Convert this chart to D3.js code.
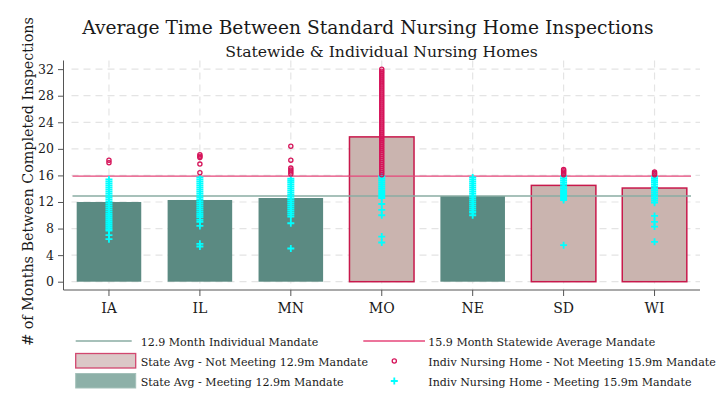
<!DOCTYPE html>
<html>
<head>
<meta charset="utf-8">
<script src="https://cdn.jsdelivr.net/npm/d3@7"></script>
<style>
  html, body { margin: 0; padding: 0; background: #fff; }
  svg { display: block; }
  text { font-family: "DejaVu Serif", "Liberation Serif", serif; fill: #1a1a1a; }
</style>
</head>
<body>
<svg id="chart" width="716" height="414"></svg>
<script>
// ---------------- DATA ----------------
const states = ["IA", "IL", "MN", "MO", "NE", "SD", "WI"];
const stateAvg = [12.0, 12.3, 12.6, 21.8, 12.9, 14.5, 14.1];
const yTicks = [0, 4, 8, 12, 16, 20, 24, 28, 32];
const individualMandate = 12.9;
const statewideMandate = 15.9;

// Individual nursing homes above 15.9 months (circles)
const homesNotMeetingIA = [18.3, 17.9];
const homesNotMeetingIL = [19.1, 18.9, 18.7, 17.7, 16.4];
const homesNotMeetingMN = [20.4, 18.3, 17.1, 16.8, 16.5, 16.2];
const homesNotMeetingMO = [32.0, 31.7, 31.4, 31.1, 30.8, 30.5, 30.2, 29.9, 29.6, 29.3, 29.0, 28.7, 28.4, 28.1,
  27.8, 27.5, 27.2, 26.9, 26.6, 26.3, 26.0, 25.7, 25.4, 25.1, 24.8, 24.5, 24.2, 23.9, 23.6, 23.3, 23.0,
  22.7, 22.4, 22.1, 21.8, 21.5, 21.2, 20.9, 20.6, 20.3, 20.0, 19.7, 19.4, 19.1, 18.8, 18.5, 18.2, 17.9,
  17.6, 17.3, 17.0, 16.7, 16.4, 16.1];
const homesNotMeetingNE = [];
const homesNotMeetingSD = [16.9, 16.7, 16.5, 16.3, 16.1];
const homesNotMeetingWI = [16.5, 16.3, 16.1];

// Individual nursing homes at or below 15.9 months (crosses)
const homesMeetingIA = [15.4, 15.1, 14.8, 14.5, 14.2, 13.9, 13.6, 13.3, 13.0, 12.7, 12.4, 12.1, 11.8, 11.5,
  11.2, 10.9, 10.6, 10.3, 10.0, 9.7, 9.4, 9.1, 8.8, 8.5, 8.2, 7.9, 7.7, 7.0, 6.4];
const homesMeetingIL = [15.7, 15.4, 15.1, 14.8, 14.5, 14.2, 13.9, 13.6, 13.3, 13.0, 12.7, 12.4, 12.1, 11.8,
  11.5, 11.2, 10.9, 10.6, 10.3, 10.0, 9.7, 9.3, 9.0, 8.4, 5.7, 5.3];
const homesMeetingMN = [15.5, 15.2, 14.9, 14.6, 14.3, 14.0, 13.7, 13.4, 13.1, 12.8, 12.5, 12.2, 11.9, 11.6,
  11.3, 11.0, 10.7, 10.4, 10.1, 9.8, 8.8, 5.0];
const homesMeetingMO = [15.9, 15.6, 15.3, 15.0, 14.7, 14.4, 14.1, 13.8, 13.5, 13.2, 12.9, 12.6, 11.7, 10.8,
  10.0, 6.8, 5.9];
const homesMeetingNE = [15.7, 15.4, 15.1, 14.8, 14.5, 14.2, 13.9, 13.6, 13.3, 13.0, 12.7, 12.4, 12.1, 11.8,
  11.5, 11.2, 10.9, 10.6, 10.4, 10.0];
const homesMeetingSD = [15.9, 15.6, 15.3, 15.0, 14.7, 14.4, 14.1, 13.8, 13.5, 13.2, 12.9, 12.6, 12.3, 5.5];
const homesMeetingWI = [15.8, 15.5, 15.2, 14.9, 14.6, 14.3, 14.0, 13.7, 13.4, 13.1, 12.8, 12.5, 12.2, 11.9,
  9.9, 9.0, 8.3, 6.0];

const homesNotMeeting = [homesNotMeetingIA, homesNotMeetingIL, homesNotMeetingMN, homesNotMeetingMO,
  homesNotMeetingNE, homesNotMeetingSD, homesNotMeetingWI];
const homesMeeting = [homesMeetingIA, homesMeetingIL, homesMeetingMN, homesMeetingMO,
  homesMeetingNE, homesMeetingSD, homesMeetingWI];

const legendLabels = [
  "12.9 Month Individual Mandate",
  "15.9 Month Statewide Average Mandate",
  "State Avg - Not Meeting 12.9m Mandate",
  "Indiv Nursing Home - Not Meeting 15.9m Mandate",
  "State Avg - Meeting 12.9m Mandate",
  "Indiv Nursing Home - Meeting 15.9m Mandate"
];

// ---------------- STYLE ----------------
const C = {
  greenBar: "#5b8a82",
  pinkBar: "#cab4af",
  pinkStroke: "#c8184b",
  greenLine: "#8aaca3",
  redLine: "#e6467a",
  cyan: "#00ffff",
  magenta: "#d6145a",
  grid: "#e4e4e4",
  axis: "#555"
};

const svg = d3.select("#chart");
const plot = { left: 63.5, right: 700, top: 60.5, bottom: 290 };

const x = d3.scaleBand().domain(states).range([plot.left, plot.right])
  .paddingInner(0.29).paddingOuter(0.145);
const y = d3.scaleLinear().domain([-1.25, 33.3]).range([plot.bottom, plot.top]);

// Gridlines
const grid = svg.append("g");
grid.selectAll("line.h").data(yTicks).join("line")
  .attr("x1", plot.left + 8).attr("x2", plot.right)
  .attr("y1", d => y(d)).attr("y2", d => y(d))
  .attr("stroke", C.grid).attr("stroke-width", 1.2).attr("stroke-dasharray", "7,5");
grid.selectAll("line.v").data(states).join("line")
  .attr("x1", d => x(d) + x.bandwidth() / 2).attr("x2", d => x(d) + x.bandwidth() / 2)
  .attr("y1", plot.top).attr("y2", plot.bottom)
  .attr("stroke", C.grid).attr("stroke-width", 1.2).attr("stroke-dasharray", "7,5");

// Bars
const meets = v => v <= individualMandate;
svg.append("g").selectAll("rect").data(states).join("rect")
  .attr("x", d => x(d))
  .attr("width", x.bandwidth())
  .attr("y", (d, i) => y(stateAvg[i]))
  .attr("height", (d, i) => y(0) - y(stateAvg[i]))
  .attr("fill", (d, i) => meets(stateAvg[i]) ? C.greenBar : C.pinkBar)
  .attr("stroke", (d, i) => meets(stateAvg[i]) ? "none" : C.pinkStroke)
  .attr("stroke-width", 1.5);

// Mandate lines
const lineX1 = plot.left + 9, lineX2 = 691;
svg.append("line").attr("x1", lineX1).attr("x2", lineX2)
  .attr("y1", y(individualMandate)).attr("y2", y(individualMandate))
  .attr("stroke", C.greenLine).attr("stroke-width", 1.6);
svg.append("line").attr("x1", lineX1).attr("x2", lineX2)
  .attr("y1", y(statewideMandate)).attr("y2", y(statewideMandate))
  .attr("stroke", C.redLine).attr("stroke-width", 1.4);

// Points
const crossPath = "M-3.5,0H3.5M0,-3.5V3.5";
const pts = svg.append("g");
states.forEach((s, i) => {
  const cx = x(s) + x.bandwidth() / 2;
  pts.append("g").selectAll("path").data(homesMeeting[i]).join("path")
    .attr("d", crossPath)
    .attr("transform", d => `translate(${cx},${y(d)})`)
    .attr("stroke", C.cyan).attr("stroke-width", 1.8).attr("fill", "none");
  pts.append("g").selectAll("circle").data(homesNotMeeting[i]).join("circle")
    .attr("cx", cx).attr("cy", d => y(d)).attr("r", 2.1)
    .attr("fill", "none").attr("stroke", C.magenta).attr("stroke-width", 1.3);
});

// Axes
const yAxis = d3.axisLeft(y).tickValues(yTicks).tickSize(5.5).tickPadding(4).tickFormat(d3.format("d"));
const gy = svg.append("g").attr("transform", `translate(${plot.left},0)`).call(yAxis);
gy.select(".domain").attr("d", `M0,${plot.top}V${plot.bottom}`).attr("stroke", C.axis);
gy.selectAll(".tick line").attr("stroke", C.axis);
gy.selectAll(".tick text").attr("font-family", "DejaVu Serif").attr("font-size", 12.5).attr("fill", "#1a1a1a");

const xAxis = d3.axisBottom(x).tickSize(6).tickPadding(7);
const gx = svg.append("g").attr("transform", `translate(0,${plot.bottom})`).call(xAxis);
gx.select(".domain").attr("d", `M${plot.left},0H${plot.right}`).attr("stroke", C.axis);
gx.selectAll(".tick line").attr("stroke", C.axis);
gx.selectAll(".tick text").attr("font-family", "DejaVu Serif").attr("font-size", 14).attr("fill", "#1a1a1a");

// text fitting helper (matches reference text widths)
function fit(sel, width) {
  const fs = +sel.attr("font-size");
  const w = sel.node().getComputedTextLength();
  sel.attr("font-size", fs * width / w);
  return sel;
}

// Titles
fit(svg.append("text").attr("x", 368).attr("y", 34).attr("text-anchor", "middle")
  .attr("font-size", 19).text("Average Time Between Standard Nursing Home Inspections"), 572);
fit(svg.append("text").attr("x", 381.5).attr("y", 56.5).attr("text-anchor", "middle")
  .attr("font-size", 15).text("Statewide & Individual Nursing Homes"), 313);

// Y label
fit(svg.append("text").attr("transform", "translate(32.5,181.5) rotate(-90)").attr("text-anchor", "middle")
  .attr("font-size", 14).text("# of Months Between Completed Inspections"), 329);

// Legend
const lg = svg.append("g");
const col1 = 75.7, col1t = 140.7, col2 = 363.3, col2t = 428.3;
const rows = [341, 361, 381];
lg.append("line").attr("x1", col1).attr("x2", 131.7).attr("y1", rows[0]).attr("y2", rows[0])
  .attr("stroke", C.greenLine).attr("stroke-width", 1.6);
lg.append("line").attr("x1", col2).attr("x2", 425).attr("y1", rows[0]).attr("y2", rows[0])
  .attr("stroke", C.redLine).attr("stroke-width", 1.6);
lg.append("rect").attr("x", col1).attr("y", rows[1] - 7.5).attr("width", 60).attr("height", 14.5)
  .attr("fill", "#dbc8c7").attr("stroke", "#d2476f").attr("stroke-width", 1.3);
lg.append("rect").attr("x", col1).attr("y", rows[2] - 7.5).attr("width", 60).attr("height", 14.5)
  .attr("fill", "#8db0a8").attr("stroke", "#a3c0b9").attr("stroke-width", 1);
lg.append("circle").attr("cx", 394.3).attr("cy", rows[1]).attr("r", 2.1)
  .attr("fill", "none").attr("stroke", C.magenta).attr("stroke-width", 1.3);
lg.append("path").attr("d", crossPath).attr("transform", `translate(394.3,${rows[2]})`)
  .attr("stroke", C.cyan).attr("stroke-width", 1.8).attr("fill", "none");

const legendPos = [[col1t, rows[0]], [col2t, rows[0]], [col1t, rows[1]], [col2t, rows[1]], [col1t, rows[2]], [col2t, rows[2]]];
const legendWidths = [179, 227, 226.6, 287, 202.6, 264.4];
const lt = lg.selectAll("text.leg").data(legendLabels).join("text")
  .attr("class", "leg")
  .attr("x", (d, i) => legendPos[i][0]).attr("y", (d, i) => legendPos[i][1] + 4.5)
  .attr("font-size", 13).text(d => d);
// common size derived from the average of measured widths
let ratio = 0;
lt.each(function (d, i) { ratio += legendWidths[i] / this.getComputedTextLength(); });
lt.attr("font-size", 13 * ratio / legendLabels.length);
</script>
</body>
</html>
